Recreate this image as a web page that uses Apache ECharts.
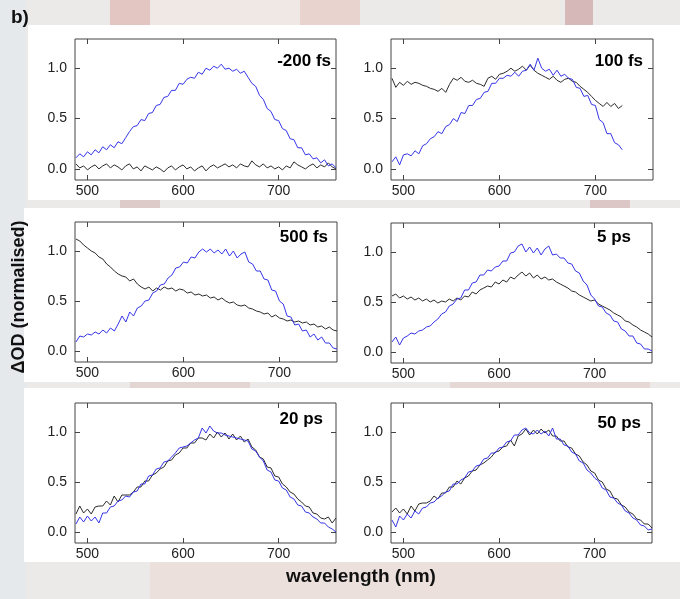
<!DOCTYPE html>
<html>
<head>
<meta charset="utf-8">
<script src="https://cdn.jsdelivr.net/npm/echarts@6/dist/echarts.min.js"></script>
<style>
  html, body { margin: 0; padding: 0; }
  #main { width: 680px; height: 599px; }
</style>
</head>
<body>
<div id="main"></div>
<script>
// wavelength grid (nm), shared by all traces
var wl = [488,492,496,500,504,508,512,516,520,524,528,532,536,540,544,548,552,556,560,564,
  568,572,576,580,584,588,592,596,600,604,608,612,616,620,624,628,632,636,640,644,
  648,652,656,660,664,668,672,676,680,684,688,692,696,700,704,708,712,716,720,724,
  728,732,736,740,744,748,752,756,760];

var panelLabels = ['-200 fs', '100 fs', '500 fs', '5 ps', '20 ps', '50 ps'];
var xTicks = [500, 600, 700];
var yTicks = [0, 0.5, 1.0];

// -200 fs
var blue200fs = [0.11,0.15,0.12,0.17,0.14,0.19,0.16,0.22,0.19,0.24,0.21,0.27,0.25,0.31,0.37,0.42,0.43,0.49,0.48,0.55,
  0.56,0.63,0.64,0.71,0.72,0.78,0.78,0.85,0.84,0.89,0.91,0.9,0.96,0.94,1.0,0.98,1.02,1.0,1.04,0.99,
  1.0,0.97,0.99,0.95,0.97,0.91,0.85,0.82,0.73,0.69,0.6,0.57,0.49,0.48,0.4,0.38,0.3,0.29,0.21,0.21,
  0.14,0.15,0.1,0.11,0.06,0.09,0.03,0.05,0.01];
var black200fs = [0.05,0.01,0.03,-0.01,0.02,0.04,0.0,0.03,0.05,0.01,0.04,0.02,-0.01,0.03,0.05,0.0,0.02,-0.02,0.03,0.01,
  -0.01,0.02,0.0,-0.03,0.01,0.03,-0.01,0.02,0.04,0.0,0.02,-0.02,0.01,0.03,-0.02,0.02,0.04,0.01,0.03,0.05,
  0.02,0.04,0.01,0.05,0.03,0.02,0.08,0.04,0.02,0.05,0.01,0.03,0.0,0.02,-0.01,0.03,0.01,0.07,0.04,0.02,
  0.0,0.03,0.05,0.01,0.04,0.02,0.06,0.02,0.0];

// 100 fs (trace stops near 730 nm)
var blue100fs = [0.07,0.12,0.04,0.14,0.15,0.13,0.18,0.15,0.23,0.25,0.3,0.32,0.37,0.35,0.42,0.44,0.5,0.47,0.56,0.55,
  0.63,0.63,0.69,0.7,0.76,0.77,0.85,0.85,0.9,0.9,0.93,0.92,0.96,0.92,0.97,0.98,1.04,0.98,1.1,1.0,
  0.97,0.99,0.93,0.98,0.92,0.94,0.9,0.89,0.81,0.8,0.72,0.73,0.64,0.63,0.49,0.46,0.35,0.35,0.26,0.24,
  0.19,null,null,null,null,null,null,null,null];
var black100fs = [0.9,0.81,0.86,0.83,0.87,0.84,0.86,0.85,0.83,0.82,0.8,0.79,0.77,0.8,0.76,0.84,0.9,0.88,0.91,0.87,
  0.86,0.88,0.85,0.84,0.82,0.9,0.92,0.89,0.94,0.95,0.97,1.0,0.97,0.99,1.02,0.98,1.03,0.98,0.95,0.93,
  0.91,0.89,0.92,0.88,0.86,0.89,0.9,0.87,0.86,0.82,0.79,0.76,0.72,0.68,0.65,0.62,0.66,0.62,0.65,0.6,
  0.63,null,null,null,null,null,null,null,null];

// 500 fs
var blue500fs = [0.09,0.15,0.14,0.17,0.16,0.19,0.17,0.21,0.18,0.23,0.2,0.27,0.35,0.29,0.39,0.35,0.43,0.45,0.5,0.51,
  0.58,0.6,0.66,0.67,0.73,0.76,0.83,0.84,0.89,0.88,0.94,0.93,0.99,1.02,0.99,1.02,0.98,1.01,0.97,1.02,
  0.95,1.0,0.93,0.97,0.99,0.89,0.87,0.8,0.8,0.72,0.71,0.61,0.6,0.5,0.47,0.35,0.34,0.26,0.27,0.2,
  0.21,0.14,0.17,0.11,0.14,0.08,0.08,0.03,0.02];
var black500fs = [1.12,1.1,1.06,1.03,1.0,0.98,0.94,0.92,0.87,0.84,0.8,0.77,0.75,0.74,0.7,0.72,0.67,0.64,0.62,0.64,
  0.6,0.63,0.61,0.64,0.62,0.63,0.6,0.62,0.61,0.58,0.59,0.56,0.57,0.55,0.56,0.53,0.54,0.51,0.53,0.5,
  0.48,0.49,0.46,0.45,0.46,0.43,0.42,0.4,0.39,0.37,0.38,0.34,0.36,0.33,0.32,0.3,0.31,0.29,0.3,0.28,
  0.29,0.26,0.27,0.24,0.25,0.22,0.24,0.21,0.2];

// 5 ps
var blue5ps = [0.1,0.15,0.07,0.14,0.16,0.19,0.18,0.21,0.22,0.25,0.26,0.3,0.33,0.38,0.4,0.46,0.48,0.53,0.54,0.62,
  0.62,0.69,0.7,0.77,0.77,0.82,0.81,0.85,0.86,0.91,0.91,0.99,1.0,1.06,1.08,1.0,1.05,0.99,1.04,0.97,
  1.03,1.06,0.97,0.98,0.94,0.94,0.89,0.88,0.81,0.79,0.71,0.67,0.57,0.53,0.46,0.45,0.39,0.37,0.31,0.3,
  0.23,0.21,0.16,0.16,0.09,0.08,0.03,0.03,0.01];
var black5ps = [0.56,0.58,0.54,0.56,0.53,0.55,0.52,0.54,0.51,0.53,0.5,0.52,0.49,0.51,0.5,0.53,0.51,0.54,0.52,0.56,
  0.55,0.6,0.58,0.62,0.64,0.66,0.65,0.7,0.68,0.72,0.7,0.75,0.73,0.77,0.8,0.76,0.79,0.74,0.77,0.73,
  0.75,0.72,0.73,0.7,0.68,0.66,0.64,0.61,0.6,0.57,0.55,0.53,0.51,0.52,0.48,0.46,0.44,0.42,0.39,0.37,
  0.35,0.31,0.3,0.27,0.25,0.22,0.2,0.18,0.15];

// 20 ps
var blue20ps = [0.08,0.15,0.1,0.16,0.11,0.15,0.09,0.19,0.19,0.25,0.26,0.31,0.32,0.36,0.35,0.4,0.41,0.48,0.48,0.56,
  0.57,0.63,0.64,0.7,0.71,0.75,0.79,0.84,0.85,0.86,0.89,0.92,0.94,1.04,0.99,1.06,1.01,0.99,0.99,0.97,
  0.96,0.95,0.94,0.93,0.92,0.91,0.83,0.81,0.75,0.71,0.62,0.6,0.52,0.51,0.44,0.42,0.35,0.33,0.27,0.26,
  0.2,0.19,0.15,0.13,0.09,0.09,0.05,0.03,0.0];
var black20ps = [0.18,0.26,0.19,0.23,0.18,0.25,0.26,0.26,0.31,0.27,0.36,0.3,0.37,0.37,0.37,0.4,0.45,0.45,0.51,0.51,
  0.57,0.59,0.63,0.65,0.71,0.72,0.77,0.79,0.84,0.84,0.89,0.89,0.94,0.94,0.92,0.98,0.94,1.0,0.95,0.99,
  0.93,0.98,0.92,0.96,0.9,0.93,0.85,0.82,0.75,0.73,0.65,0.64,0.56,0.55,0.48,0.45,0.4,0.38,0.33,0.3,
  0.26,0.25,0.19,0.18,0.14,0.13,0.15,0.09,0.14];

// 50 ps
var blue50ps = [0.12,0.05,0.16,0.12,0.18,0.14,0.21,0.18,0.24,0.25,0.29,0.3,0.34,0.36,0.4,0.41,0.48,0.48,0.52,0.54,
  0.6,0.61,0.66,0.67,0.73,0.74,0.79,0.79,0.84,0.85,0.9,0.91,0.97,0.97,1.02,1.04,0.99,0.98,1.02,0.98,
  1.01,0.96,1.04,0.93,0.93,0.87,0.86,0.8,0.78,0.71,0.69,0.62,0.59,0.54,0.51,0.44,0.42,0.35,0.34,0.29,
  0.27,0.21,0.19,0.14,0.12,0.07,0.06,0.02,0.03];
var black50ps = [0.2,0.24,0.19,0.23,0.18,0.26,0.21,0.28,0.29,0.29,0.31,0.36,0.33,0.39,0.39,0.45,0.45,0.51,0.48,0.54,
  0.56,0.61,0.62,0.67,0.69,0.72,0.75,0.8,0.81,0.85,0.86,0.92,0.86,0.96,0.98,1.03,0.97,1.02,0.98,1.03,
  0.99,1.02,0.96,0.96,0.91,0.91,0.85,0.84,0.78,0.76,0.7,0.67,0.61,0.59,0.52,0.5,0.43,0.41,0.34,0.33,
  0.27,0.25,0.2,0.18,0.13,0.12,0.08,0.08,0.04];

var blueSets = [blue200fs, blue100fs, blue500fs, blue5ps, blue20ps, blue50ps];
var blackSets = [black200fs, black100fs, black500fs, black5ps, black20ps, black50ps];

// plot boxes in pixels: [left, top, width, height]
var boxes = [
  [75, 39, 261, 141], [391, 39, 262, 141],
  [75, 222, 262, 140], [391, 223, 261, 140],
  [75, 403, 261, 140], [391, 403, 261, 140]
];
// label anchor (right edge, middle)
var labelPos = [[331, 61], [643, 61], [328, 237], [631, 237], [323, 419], [641, 423]];

var myChart = echarts.init(document.getElementById('main'));

var grids = [], xAxes = [], yAxes = [], series = [];
var tickStyle = {show: true, inside: true, length: 5, lineStyle: {color: '#444', width: 1}};
var lblStyle = {color: '#222', fontSize: 14, fontFamily: 'Liberation Sans, Arial, sans-serif'};
var noLine = {show: false, onZero: false};

function pairs(arr) {
  return wl.map(function (w, i) { return [w, arr[i]]; });
}

for (var i = 0; i < 6; i++) {
  var b = boxes[i];
  grids.push({
    left: b[0], top: b[1], width: b[2], height: b[3],
    show: true, borderColor: '#444', borderWidth: 1, backgroundColor: '#fff'
  });
  xAxes.push({
    type: 'value', gridIndex: i, min: 487, max: 760, position: 'bottom',
    axisLine: noLine, splitLine: {show: false},
    axisTick: Object.assign({customValues: xTicks}, tickStyle),
    axisLabel: Object.assign({customValues: xTicks, margin: 4}, lblStyle)
  });
  xAxes.push({
    type: 'value', gridIndex: i, min: 487, max: 760, position: 'top',
    axisLine: noLine, splitLine: {show: false},
    axisTick: Object.assign({customValues: xTicks}, tickStyle),
    axisLabel: {show: false}
  });
  yAxes.push({
    type: 'value', gridIndex: i, min: -0.11, max: 1.29, position: 'left',
    axisLine: noLine, splitLine: {show: false},
    axisTick: Object.assign({customValues: yTicks}, tickStyle),
    axisLabel: Object.assign({customValues: yTicks, margin: 8,
      formatter: function (v) { return v.toFixed(1); }}, lblStyle)
  });
  yAxes.push({
    type: 'value', gridIndex: i, min: -0.11, max: 1.29, position: 'right',
    axisLine: noLine, splitLine: {show: false},
    axisTick: Object.assign({customValues: yTicks}, tickStyle),
    axisLabel: {show: false}
  });
  series.push({
    type: 'line', xAxisIndex: 2 * i, yAxisIndex: 2 * i,
    data: pairs(blackSets[i]), showSymbol: false, connectNulls: false,
    lineStyle: {color: '#2b2b2b', width: 1}, silent: true
  });
  series.push({
    type: 'line', xAxisIndex: 2 * i, yAxisIndex: 2 * i,
    data: pairs(blueSets[i]), showSymbol: false, connectNulls: false,
    lineStyle: {color: '#3535e8', width: 1}, silent: true
  });
}

var bold = 'bold 17px "Liberation Sans Narrow", "Liberation Sans", Arial, sans-serif';
var graphics = [
  // faded photo behind the figure
  {type: 'rect', z: -20, shape: {x: 0, y: 0, width: 680, height: 599}, style: {fill: '#eceae8'}},
  {type: 'rect', z: -19, shape: {x: 0, y: 0, width: 26, height: 599}, style: {fill: '#e6e9ec'}},
  {type: 'rect', z: -19, shape: {x: 110, y: 0, width: 40, height: 25}, style: {fill: '#e3c6c1'}},
  {type: 'rect', z: -19, shape: {x: 150, y: 0, width: 150, height: 25}, style: {fill: '#f0e8e4'}},
  {type: 'rect', z: -19, shape: {x: 300, y: 0, width: 60, height: 25}, style: {fill: '#e8d3cf'}},
  {type: 'rect', z: -19, shape: {x: 440, y: 0, width: 120, height: 25}, style: {fill: '#f0eae4'}},
  {type: 'rect', z: -19, shape: {x: 565, y: 0, width: 28, height: 25}, style: {fill: '#d6b8b8'}},
  {type: 'rect', z: -19, shape: {x: 120, y: 200, width: 40, height: 8}, style: {fill: '#dccbc9'}},
  {type: 'rect', z: -19, shape: {x: 590, y: 200, width: 40, height: 8}, style: {fill: '#dcc6c6'}},
  {type: 'rect', z: -19, shape: {x: 130, y: 382, width: 120, height: 6}, style: {fill: '#e3d5d2'}},
  {type: 'rect', z: -19, shape: {x: 450, y: 382, width: 200, height: 6}, style: {fill: '#e6d8d5'}},
  {type: 'rect', z: -19, shape: {x: 150, y: 562, width: 420, height: 37}, style: {fill: '#ebe0db'}},
  // white panel bands
  {type: 'rect', z: -18, shape: {x: 28, y: 25, width: 652, height: 175}, style: {fill: '#ffffff'}},
  {type: 'rect', z: -18, shape: {x: 24, y: 208, width: 656, height: 174}, style: {fill: '#ffffff'}},
  {type: 'rect', z: -18, shape: {x: 24, y: 388, width: 656, height: 174}, style: {fill: '#ffffff'}},
  // captions
  {type: 'text', x: 11, y: 18, style: {text: 'b)', font: 'bold 19px "Liberation Sans", Arial, sans-serif',
    fill: '#111', textVerticalAlign: 'middle'}},
  {type: 'text', x: 19, y: 297, rotation: Math.PI / 2, style: {text: 'ΔOD (normalised)',
    font: 'bold 18px "Liberation Sans", Arial, sans-serif', fill: '#111',
    textAlign: 'center', textVerticalAlign: 'middle'}},
  {type: 'text', x: 361, y: 577, style: {text: 'wavelength (nm)',
    font: 'bold 19px "Liberation Sans", Arial, sans-serif', fill: '#111',
    textAlign: 'center', textVerticalAlign: 'middle'}}
];
for (var k = 0; k < 6; k++) {
  graphics.push({type: 'text', x: labelPos[k][0], y: labelPos[k][1], z: 10,
    style: {text: panelLabels[k], font: bold, fill: '#000', textAlign: 'right', textVerticalAlign: 'middle'}});
}

var option = {
  animation: false,
  grid: grids,
  xAxis: xAxes,
  yAxis: yAxes,
  series: series,
  graphic: graphics
};
myChart.setOption(option);
</script>
</body>
</html>
